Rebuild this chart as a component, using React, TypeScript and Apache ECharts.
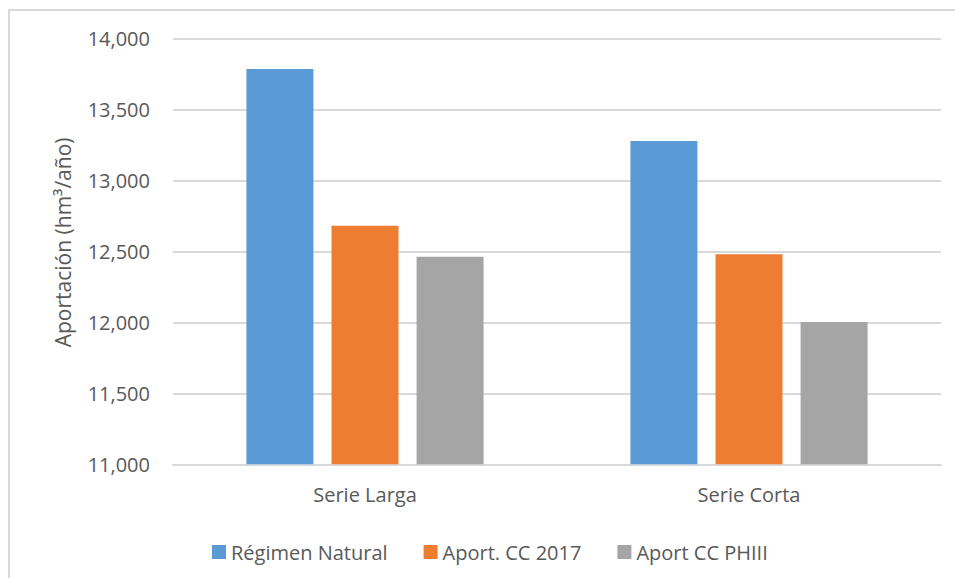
import React, { useEffect, useRef } from "react";
import * as echarts from "echarts";

const categories = ["Serie Larga", "Serie Corta"];
const seriesNames = ["Régimen Natural", "Aport. CC 2017", "Aport CC PHIII"];
const regimenNatural = [13785, 13278];
const aportCC2017 = [12681, 12480];
const aportCCPHIII = [12463, 12003];
const yTicks = { min: 11000, max: 14000, interval: 500 };

const colors = ["#5B9BD5", "#ED7D31", "#A5A5A5"];
const FONT = "'Open Sans', 'Noto Sans', sans-serif";
const TEXT = "#595959";

export default function App() {
  const ref = useRef<HTMLDivElement>(null);
  useEffect(() => {
    if (!ref.current) return;
    const chart = echarts.init(ref.current, undefined, { renderer: "svg" });
    const values = [regimenNatural, aportCC2017, aportCCPHIII];
    chart.setOption({
      animation: false,
      backgroundColor: "#ffffff",
      textStyle: { fontFamily: FONT },
      graphic: [
        {
          type: "rect",
          z: -10,
          silent: true,
          shape: { x: 9, y: 10, width: 1000, height: 1000 },
          style: { fill: "none", stroke: "#d9d9d9", lineWidth: 2 },
        },
      ],
      grid: { left: 173, right: 14, top: 38.5, bottom: 113.7, containLabel: false },
      legend: {
        left: 207,
        top: 537,
        itemWidth: 14,
        itemHeight: 14,
        itemGap: 36,
        icon: "rect",
        textStyle: { fontFamily: FONT, fontSize: 20, color: TEXT },
        data: seriesNames,
      },
      xAxis: {
        type: "category",
        data: categories,
        axisLine: { show: true, lineStyle: { color: "#d9d9d9", width: 2 } },
        axisTick: { show: false },
        axisLabel: { fontFamily: FONT, fontSize: 20, color: TEXT, margin: 20 },
      },
      yAxis: {
        type: "value",
        min: yTicks.min,
        max: yTicks.max,
        interval: yTicks.interval,
        name: "Aportación (hm³/año)",
        nameLocation: "middle",
        nameRotate: 90,
        nameGap: 100,
        nameTextStyle: { fontFamily: FONT, fontSize: 21, color: TEXT, padding: [0, 0, 0, 18] },
        axisLine: { show: false },
        axisTick: { show: false },
        splitLine: { show: true, lineStyle: { color: "#d9d9d9", width: 2 } },
        axisLabel: {
          fontFamily: FONT,
          fontSize: 20,
          color: TEXT,
          margin: 23,
          formatter: (v: number) => v.toLocaleString("en-US"),
        },
      },
      series: seriesNames.map((name, i) => ({
        name,
        type: "bar",
        data: values[i],
        barWidth: 67,
        barGap: "27%",
        itemStyle: { color: colors[i] },
      })),
    });
    return () => chart.dispose();
  }, []);
  return (
    <div
      ref={ref}
      style={{ position: "fixed", left: 0, top: 0, width: 955, height: 578 }}
    />
  );
}
